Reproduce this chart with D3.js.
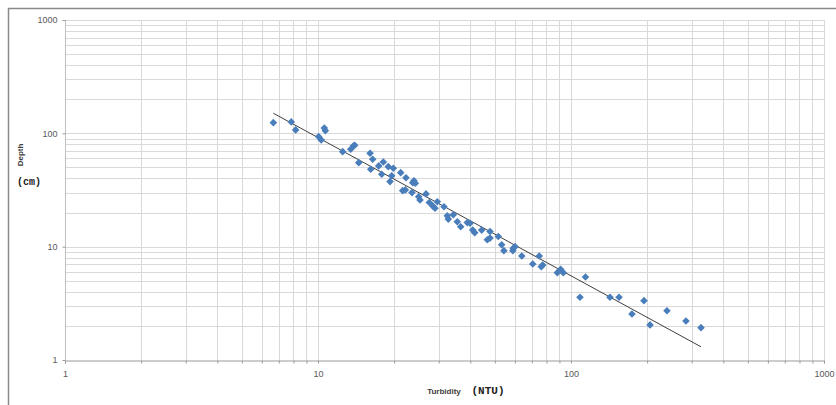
<!DOCTYPE html>
<html>
<head>
<meta charset="utf-8">
<script src="https://cdn.jsdelivr.net/npm/d3@7"></script>
<style>
  body { margin: 0; background: #fff; }
</style>
</head>
<body>
<script>
// turbidity (NTU)
var turbidity = [6.66, 7.84, 8.16, 10.06, 10.3, 10.59, 10.69, 12.52, 13.47, 13.79,
    13.97, 14.49, 16.06, 16.45, 16.16, 17.38, 18.12, 18.96, 19.85, 17.86,
    19.56, 21.23, 22.27, 19.26, 23.95, 23.68, 24.25, 21.62, 22.14, 23.52,
    26.73, 25.0, 25.3, 27.54, 28.41, 29.62, 29.01, 31.48, 32.44, 32.73,
    35.52, 34.26, 36.65, 38.91, 39.89, 40.88, 41.64, 44.36, 47.85, 46.69,
    47.85, 51.6, 53.2, 54.3, 59.1, 60.1, 58.9, 63.9, 70.6, 74.9,
    76.3, 77.3, 88.3, 91.0, 93.2, 114.1, 108.5, 142.6, 154.8, 174.2,
    194.3, 205.3, 239.5, 284.7, 326.5];
// depth (cm)
var depth = [124.3, 126.1, 107.2, 93.5, 87.5, 111.6, 105.6, 68.9, 72.4, 77.4,
    78.5, 55.1, 66.7, 59.1, 48.2, 51.6, 55.9, 50.8, 49.2, 43.6,
    42.3, 45.0, 40.6, 37.5, 38.2, 36.7, 36.3, 31.2, 31.7, 30.0,
    29.2, 27.6, 25.8, 24.5, 22.9, 24.9, 21.8, 22.5, 18.7, 17.5,
    16.6, 19.1, 15.0, 16.3, 16.1, 14.0, 13.3, 14.0, 13.6, 11.5,
    11.9, 12.3, 10.4, 9.22, 9.68, 10.0, 9.22, 8.28, 7.04, 8.28,
    6.66, 6.9, 5.9, 6.32, 5.9, 5.4, 3.58, 3.58, 3.58, 2.55,
    3.34, 2.04, 2.72, 2.21, 1.93];
var xTicks = [1, 10, 100, 1000];
var yTicks = [1, 10, 100, 1000];

var W = 836, H = 405;
var pLeft = 65, pRight = 824, pTop = 20, pBottom = 360;

var svg = d3.select("body")
    .append("svg")
    .attr("width", W)
    .attr("height", H);

// outer chart frame
svg.append("rect")
    .attr("x", 8.5)
    .attr("y", 8.5)
    .attr("width", W)
    .attr("height", H)
    .attr("fill", "#fff")
    .attr("stroke", "#8a8a8a")
    .attr("stroke-width", 1.5);

var x = d3.scaleLog().domain([1, 1000]).range([pLeft, pRight]);
var y = d3.scaleLog().domain([1, 1000]).range([pBottom, pTop]);

// every 1..9 step of each decade gets a grid line
function gridVals(lo, hi) {
    let vals = [];
    for (let d = lo; d < hi; d *= 10) {
        for (let k = 1; k < 10; k++) vals.push(d * k);
    }
    vals.push(hi);
    return vals;
}
var gx = gridVals(1, 1000), gy = gridVals(1, 1000);

svg.append("g").selectAll("line")
    .data(gx.slice(1))
    .join("line")
    .attr("x1", d => Math.round(x(d)) + 0.5)
    .attr("x2", d => Math.round(x(d)) + 0.5)
    .attr("y1", pTop)
    .attr("y2", pBottom)
    .attr("stroke", "#d9d9d9")
    .attr("stroke-width", 1);

svg.append("g").selectAll("line")
    .data(gy.slice(1))
    .join("line")
    .attr("x1", pLeft)
    .attr("x2", pRight)
    .attr("y1", d => Math.round(y(d)) + 0.5)
    .attr("y2", d => Math.round(y(d)) + 0.5)
    .attr("stroke", "#d9d9d9")
    .attr("stroke-width", 1);

// axes
var xAxis = d3.axisBottom(x)
    .tickValues(gx)
    .tickSize(3)
    .tickFormat(d => xTicks.indexOf(d) >= 0 ? d : "");
var gxA = svg.append("g")
    .attr("transform", "translate(0," + (pBottom + 0.5) + ")")
    .call(xAxis);
gxA.select(".domain").attr("stroke", "#9a9a9a");
gxA.selectAll(".tick line").attr("stroke", "#9a9a9a");
gxA.selectAll("text")
    .attr("dy", 0)
    .attr("y", 16)
    .attr("fill", "#595959")
    .style("font-family", "Liberation Sans, Arial, sans-serif")
    .style("font-size", "9px");

var yAxis = d3.axisLeft(y)
    .tickValues(yTicks)
    .tickSize(3)
    .tickFormat(d => d);
var gyA = svg.append("g")
    .attr("transform", "translate(" + (pLeft + 0.5) + ",0)")
    .call(yAxis);
gyA.select(".domain").attr("stroke", "#bfbfbf").attr("d", "M0," + pTop + "V" + pBottom);
gyA.selectAll(".tick line").attr("stroke", "#9a9a9a");
gyA.selectAll("text")
    .attr("x", -8)
    .attr("fill", "#595959")
    .style("font-family", "Liberation Sans, Arial, sans-serif")
    .style("font-size", "9px");

// power trendline, least squares on the logs like the spreadsheet does
function powerFit(xs, ys) {
    let n = xs.length, sx = 0, sy = 0, sxx = 0, sxy = 0;
    for (let i = 0; i < n; i++) {
        let lx = Math.log(xs[i]), ly = Math.log(ys[i]);
        sx += lx; sy += ly; sxx += lx * lx; sxy += lx * ly;
    }
    let b = (n * sxy - sx * sy) / (n * sxx - sx * sx);
    let a = Math.exp((sy - b * sx) / n);
    return { a: a, b: b };
}
var fit = powerFit(turbidity, depth);
var xMin = d3.min(turbidity), xMax = d3.max(turbidity);
svg.append("line")
    .attr("x1", x(xMin))
    .attr("y1", y(fit.a * Math.pow(xMin, fit.b)))
    .attr("x2", x(xMax))
    .attr("y2", y(fit.a * Math.pow(xMax, fit.b)))
    .attr("stroke", "#3f3f3f")
    .attr("stroke-width", 1);

// points
var pts = turbidity.map((d, i) => [d, depth[i]]);
var r = 3.8;
svg.append("g").selectAll("path")
    .data(pts)
    .join("path")
    .attr("transform", d => "translate(" + x(d[0]) + "," + y(d[1]) + ")")
    .attr("d", "M0," + (-r) + "L" + r + ",0L0," + r + "L" + (-r) + ",0Z")
    .attr("fill", "#4a7ebb");

// titles
svg.append("text")
    .attr("transform", "translate(23,155) rotate(-90)")
    .attr("text-anchor", "middle")
    .attr("fill", "#404040")
    .style("font-family", "Liberation Sans, Arial, sans-serif")
    .style("font-weight", "bold")
    .style("font-size", "8px")
    .text("Depth");
svg.append("text")
    .attr("x", 29)
    .attr("y", 185)
    .attr("text-anchor", "middle")
    .attr("fill", "#222")
    .style("font-family", "Liberation Mono, Courier New, monospace")
    .style("font-weight", "bold")
    .style("font-size", "10px")
    .text("(cm)");
svg.append("text")
    .attr("x", 444)
    .attr("y", 394)
    .attr("text-anchor", "middle")
    .attr("fill", "#404040")
    .style("font-family", "Liberation Sans, Arial, sans-serif")
    .style("font-weight", "bold")
    .style("font-size", "8px")
    .text("Turbidity");
svg.append("text")
    .attr("x", 488)
    .attr("y", 394)
    .attr("text-anchor", "middle")
    .attr("fill", "#222")
    .style("font-family", "Liberation Mono, Courier New, monospace")
    .style("font-weight", "bold")
    .style("font-size", "11px")
    .text("(NTU)");
</script>
</body>
</html>
